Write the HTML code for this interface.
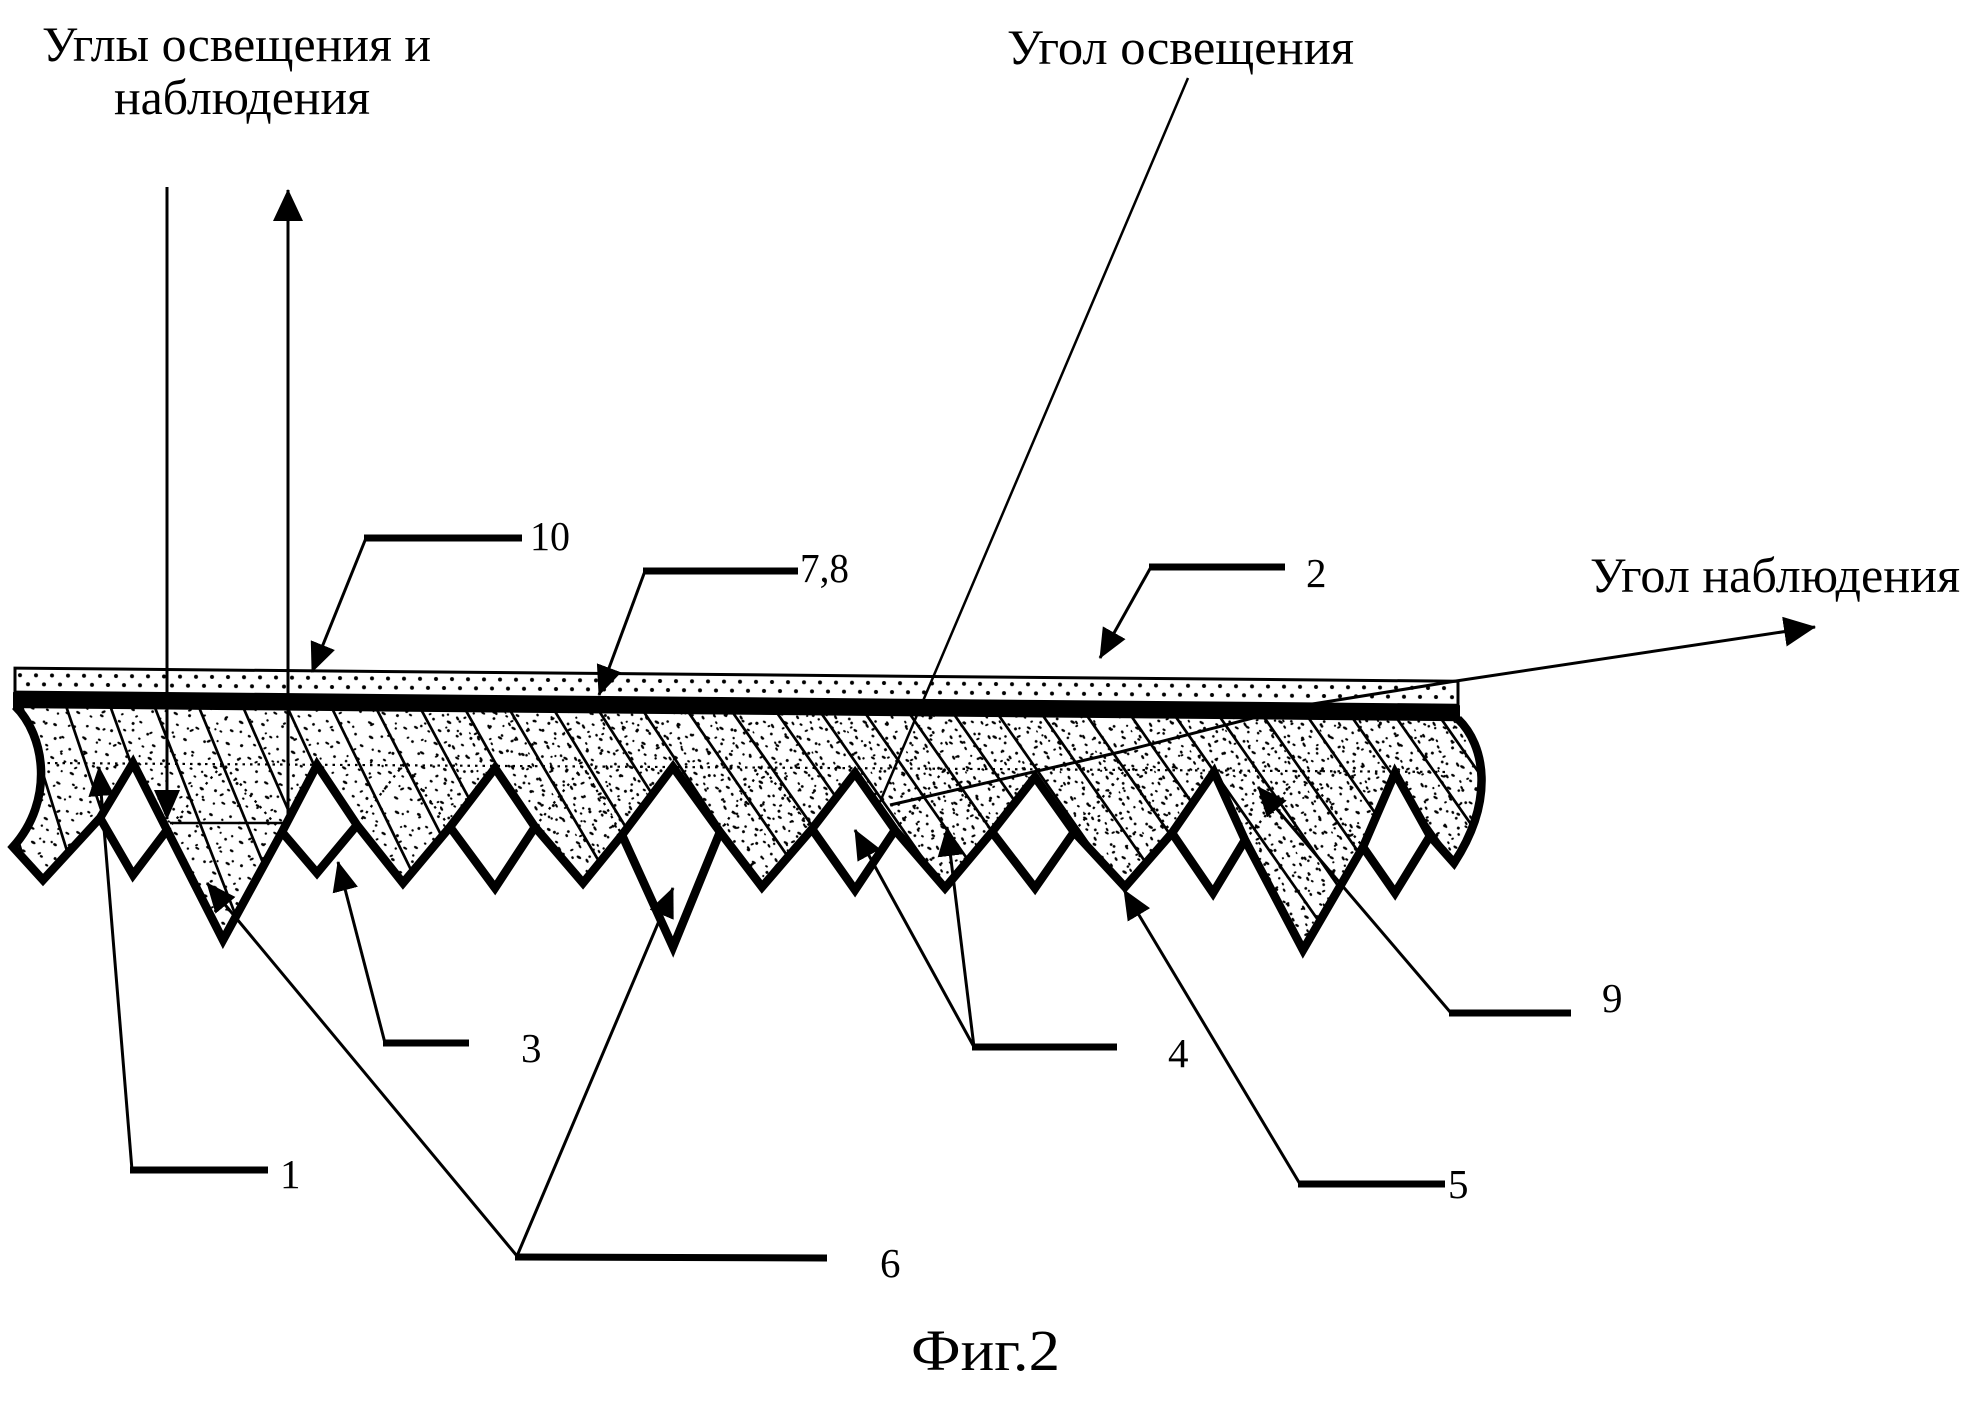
<!DOCTYPE html>
<html><head><meta charset="utf-8"><style>html,body{margin:0;padding:0;background:#fff}svg{display:block}</style></head><body>
<svg width="1979" height="1409" viewBox="0 0 1979 1409" xmlns="http://www.w3.org/2000/svg" font-family="'Liberation Serif','DejaVu Serif',serif">
<defs>
<marker id="a1" viewBox="0 0 30 26" refX="29" refY="13" markerWidth="30" markerHeight="26" markerUnits="userSpaceOnUse" orient="auto"><path d="M0,0 L30,13 L0,26 Z" fill="#000"/></marker>
<marker id="a2" viewBox="0 0 32 30" refX="31" refY="15" markerWidth="32" markerHeight="30" markerUnits="userSpaceOnUse" orient="auto"><path d="M0,0 L32,15 L0,30 Z" fill="#000"/></marker>
<pattern id="dots" x="0" y="668" width="16" height="24" patternUnits="userSpaceOnUse"><circle cx="4" cy="7" r="2"/><circle cx="12" cy="16" r="2"/></pattern>
<pattern id="st1" width="60" height="52" patternUnits="userSpaceOnUse" patternTransform="rotate(30)">
<ellipse cx="4" cy="6" rx="2.2" ry="1.2"/><ellipse cx="17" cy="3" rx="1.5" ry="1"/><ellipse cx="29" cy="10" rx="2.4" ry="1.3"/><ellipse cx="42" cy="5" rx="1.5" ry="1.5"/><ellipse cx="55" cy="12" rx="2.2" ry="1.1"/><ellipse cx="8" cy="20" rx="1.4" ry="1.4"/><ellipse cx="22" cy="25" rx="2.4" ry="1.2"/><ellipse cx="36" cy="19" rx="1.6" ry="1.1"/><ellipse cx="50" cy="28" rx="2" ry="1.4"/><ellipse cx="3" cy="35" rx="1.7" ry="1.1"/><ellipse cx="15" cy="42" rx="1.4" ry="1.4"/><ellipse cx="30" cy="37" rx="2.6" ry="1.4"/><ellipse cx="44" cy="45" rx="1.6" ry="1.2"/><ellipse cx="57" cy="40" rx="1.5" ry="1.5"/><ellipse cx="10" cy="50" rx="1.3" ry="1.1"/><ellipse cx="26" cy="49" rx="2" ry="1.2"/><ellipse cx="39" cy="31" rx="1.3" ry="1.3"/><ellipse cx="53" cy="50" rx="1.7" ry="1.1"/><ellipse cx="19" cy="13" rx="1.1" ry="1.1"/><ellipse cx="47" cy="17" rx="1.2" ry="1.2"/>
</pattern>
<pattern id="st2" width="83" height="71" patternUnits="userSpaceOnUse" patternTransform="rotate(-25)">
<ellipse cx="7" cy="9" rx="1.8" ry="1"/><ellipse cx="23" cy="4" rx="1.2" ry="1.2"/><ellipse cx="38" cy="14" rx="2" ry="1.1"/><ellipse cx="61" cy="8" rx="1.4" ry="1.4"/><ellipse cx="76" cy="18" rx="1.8" ry="1"/><ellipse cx="13" cy="27" rx="1.2" ry="1.2"/><ellipse cx="31" cy="33" rx="2.2" ry="1.1"/><ellipse cx="49" cy="25" rx="1.4" ry="1"/><ellipse cx="68" cy="36" rx="1.7" ry="1.2"/><ellipse cx="5" cy="48" rx="1.5" ry="1"/><ellipse cx="21" cy="56" rx="1.2" ry="1.2"/><ellipse cx="42" cy="50" rx="2.2" ry="1.2"/><ellipse cx="58" cy="60" rx="1.4" ry="1"/><ellipse cx="75" cy="55" rx="1.3" ry="1.3"/><ellipse cx="14" cy="67" rx="1.2" ry="1"/><ellipse cx="35" cy="66" rx="1.6" ry="1.1"/><ellipse cx="53" cy="42" rx="1.1" ry="1.1"/><ellipse cx="70" cy="68" rx="1.5" ry="1"/>
</pattern>
<pattern id="st3" width="47" height="41" patternUnits="userSpaceOnUse" patternTransform="rotate(60)">
<ellipse cx="5" cy="4" rx="2.2" ry="1.2"/><ellipse cx="20" cy="9" rx="1.6" ry="1.3"/><ellipse cx="36" cy="3" rx="2" ry="1.1"/><ellipse cx="11" cy="18" rx="1.5" ry="1.5"/><ellipse cx="28" cy="22" rx="2.4" ry="1.2"/><ellipse cx="42" cy="15" rx="1.4" ry="1.2"/><ellipse cx="3" cy="30" rx="1.8" ry="1.1"/><ellipse cx="18" cy="34" rx="1.4" ry="1.4"/><ellipse cx="33" cy="37" rx="2" ry="1.2"/><ellipse cx="44" cy="28" rx="1.5" ry="1"/><ellipse cx="24" cy="0.5" rx="1.2" ry="1"/>
</pattern>
<clipPath id="bodyclip"><path d="M15,706 L1458,719 C1485,745 1495,800 1454,863 L1430,836 L1395,773 L1363,847 L1303,950 L1245,840 L1214,772 L1172,833 L1125,887 L1074,832 L1035,777 L992,832 L945,888 L895,830 L855,773 L812,829 L762,887 L720,832 L673,767 L622,835 L583,883 L535,827 L495,768 L450,827 L403,883 L357,825 L317,765 L282,832 L223,940 L167,830 L133,763 L100,818 L43,880 L13,847 C55,800 45,735 15,706 Z"/></clipPath>
</defs>
<rect width="1979" height="1409" fill="#fff"/>

<!-- body fill -->
<g clip-path="url(#bodyclip)">
<rect x="0" y="690" width="1520" height="280" fill="url(#st1)"/>
<rect x="0" y="690" width="1520" height="280" fill="url(#st2)"/>
<rect x="440" y="690" width="1080" height="280" fill="url(#st3)"/>
<g stroke="#000" stroke-width="2.7">
<line x1="-24" y1="700" x2="54" y2="960"/><line x1="20" y1="700" x2="101" y2="960"/><line x1="64" y1="700" x2="152" y2="960"/><line x1="108" y1="700" x2="202" y2="960"/><line x1="152" y1="700" x2="253" y2="960"/><line x1="196" y1="700" x2="303" y2="960"/><line x1="240" y1="700" x2="354" y2="960"/><line x1="284" y1="700" x2="404" y2="960"/><line x1="328" y1="700" x2="455" y2="960"/><line x1="372" y1="700" x2="505" y2="960"/><line x1="416" y1="700" x2="556" y2="960"/><line x1="460" y1="700" x2="606" y2="960"/><line x1="504" y1="700" x2="657" y2="960"/><line x1="548" y1="700" x2="707" y2="960"/><line x1="592" y1="700" x2="758" y2="960"/><line x1="636" y1="700" x2="808" y2="960"/><line x1="680" y1="700" x2="859" y2="960"/><line x1="724" y1="700" x2="906" y2="960"/><line x1="768" y1="700" x2="950" y2="960"/><line x1="812" y1="700" x2="994" y2="960"/><line x1="856" y1="700" x2="1038" y2="960"/><line x1="900" y1="700" x2="1082" y2="960"/><line x1="944" y1="700" x2="1126" y2="960"/><line x1="988" y1="700" x2="1170" y2="960"/><line x1="1032" y1="700" x2="1214" y2="960"/><line x1="1076" y1="700" x2="1258" y2="960"/><line x1="1120" y1="700" x2="1302" y2="960"/><line x1="1164" y1="700" x2="1346" y2="960"/><line x1="1208" y1="700" x2="1390" y2="960"/><line x1="1252" y1="700" x2="1434" y2="960"/><line x1="1296" y1="700" x2="1478" y2="960"/><line x1="1340" y1="700" x2="1522" y2="960"/><line x1="1384" y1="700" x2="1566" y2="960"/><line x1="1428" y1="700" x2="1610" y2="960"/>
</g>
<g stroke="#000" stroke-width="2.2" stroke-dasharray="2.5 5" fill="none">
<line x1="40" y1="763" x2="1450" y2="772"/>
<polyline points="167,830 223,764 282,832"/>
<polyline points="357,825 403,765 450,827"/>
<polyline points="535,827 583,766 622,835"/>
<polyline points="720,832 762,767 812,829"/>
<polyline points="895,830 945,769 992,832"/>
<polyline points="1074,832 1125,770 1172,833"/>
<polyline points="1245,840 1303,771 1363,847"/>
</g>
</g>

<!-- body outline -->
<path d="M15,706 C45,735 55,800 13,847 L43,880 L100,818 L133,763 L167,830 L223,940 L282,832 L317,765 L357,825 L403,883 L450,827 L495,768 L535,827 L583,883 L622,835 L673,767 L720,832 L762,887 L812,829 L855,773 L895,830 L945,888 L992,832 L1035,777 L1074,832 L1125,887 L1172,833 L1214,772 L1245,840 L1303,950 L1363,847 L1395,773 L1430,836 L1454,863 C1495,800 1485,745 1458,719" fill="none" stroke="#000" stroke-width="8.5" stroke-linejoin="miter" stroke-miterlimit="10"/>
<g fill="none" stroke="#000" stroke-width="8.5" stroke-linejoin="miter">
<polyline points="100,818 133,875 167,830"/>
<polyline points="282,832 317,873 357,825"/>
<polyline points="450,827 495,888 535,827"/>
<polyline points="622,835 673,947 720,832"/>
<polyline points="812,829 855,890 895,830"/>
<polyline points="992,832 1035,888 1074,832"/>
<polyline points="1172,833 1213,893 1245,840"/>
<polyline points="1363,847 1395,893 1430,836"/>
</g>

<!-- top layer -->
<g transform="skewY(0.52)">
<rect x="15" y="668" width="1443" height="24" fill="url(#dots)" stroke="#000" stroke-width="3"/>
<rect x="13" y="692" width="1447" height="16" fill="#000"/>
</g>

<!-- rays -->
<g stroke="#000" fill="none">
<line x1="167" y1="187" x2="167" y2="819" stroke-width="3" marker-end="url(#a1)"/>
<line x1="170" y1="823" x2="288" y2="823" stroke-width="2.5"/>
<line x1="288" y1="823" x2="288" y2="190" stroke-width="3" marker-end="url(#a2)"/>
<line x1="1188" y1="78" x2="880" y2="802" stroke-width="2.5"/>
<polyline points="890,805 1120,752 1300,706 1456,681 1815,627" stroke-width="3" marker-end="url(#a2)"/>
</g>

<!-- leaders -->
<g stroke="#000" fill="none" stroke-width="3">
<line x1="366" y1="538" x2="312" y2="672" marker-end="url(#a1)"/>
<line x1="645" y1="571" x2="599" y2="695" marker-end="url(#a1)"/>
<line x1="1151" y1="567" x2="1100" y2="658" marker-end="url(#a1)"/>
<line x1="132" y1="1170" x2="99" y2="767" marker-end="url(#a1)"/>
<line x1="385" y1="1043" x2="338" y2="862" marker-end="url(#a1)"/>
<line x1="517" y1="1256" x2="207" y2="883" marker-end="url(#a1)"/>
<line x1="517" y1="1256" x2="673" y2="888" marker-end="url(#a1)"/>
<line x1="974" y1="1047" x2="855" y2="830" marker-end="url(#a1)"/>
<line x1="974" y1="1047" x2="947" y2="827" marker-end="url(#a1)"/>
<line x1="1300" y1="1184" x2="1124" y2="890" marker-end="url(#a1)"/>
<line x1="1451" y1="1013" x2="1258" y2="787" marker-end="url(#a1)"/>
</g>
<g stroke="#000" stroke-width="7">
<line x1="364" y1="538" x2="522" y2="538"/>
<line x1="643" y1="571" x2="798" y2="571"/>
<line x1="1149" y1="567" x2="1285" y2="567"/>
<line x1="130" y1="1170" x2="268" y2="1170"/>
<line x1="383" y1="1043" x2="469" y2="1043"/>
<line x1="515" y1="1257" x2="827" y2="1258"/>
<line x1="972" y1="1047" x2="1117" y2="1047"/>
<line x1="1298" y1="1184" x2="1445" y2="1184"/>
<line x1="1449" y1="1013" x2="1571" y2="1013"/>
</g>

<!-- text -->
<g fill="#000">
<text x="42" y="61" font-size="50" textLength="389" lengthAdjust="spacingAndGlyphs">Углы освещения и</text>
<text x="114" y="114" font-size="50" textLength="256" lengthAdjust="spacingAndGlyphs">наблюдения</text>
<text x="1007" y="64" font-size="50" textLength="347" lengthAdjust="spacingAndGlyphs">Угол освещения</text>
<text x="1590" y="592" font-size="50" textLength="370" lengthAdjust="spacingAndGlyphs">Угол наблюдения</text>
<text x="530" y="550" font-size="41" textLength="40" lengthAdjust="spacingAndGlyphs">10</text>
<text x="800" y="582" font-size="41" textLength="49" lengthAdjust="spacingAndGlyphs">7,8</text>
<text x="1306" y="587" font-size="41">2</text>
<text x="280" y="1188" font-size="41">1</text>
<text x="521" y="1062" font-size="41">3</text>
<text x="1168" y="1067" font-size="41">4</text>
<text x="1448" y="1198" font-size="41">5</text>
<text x="880" y="1277" font-size="41">6</text>
<text x="1602" y="1012" font-size="41">9</text>
<text x="911" y="1370" font-size="58" textLength="149" lengthAdjust="spacingAndGlyphs">Фиг.2</text>
</g>
</svg>
</body></html>
